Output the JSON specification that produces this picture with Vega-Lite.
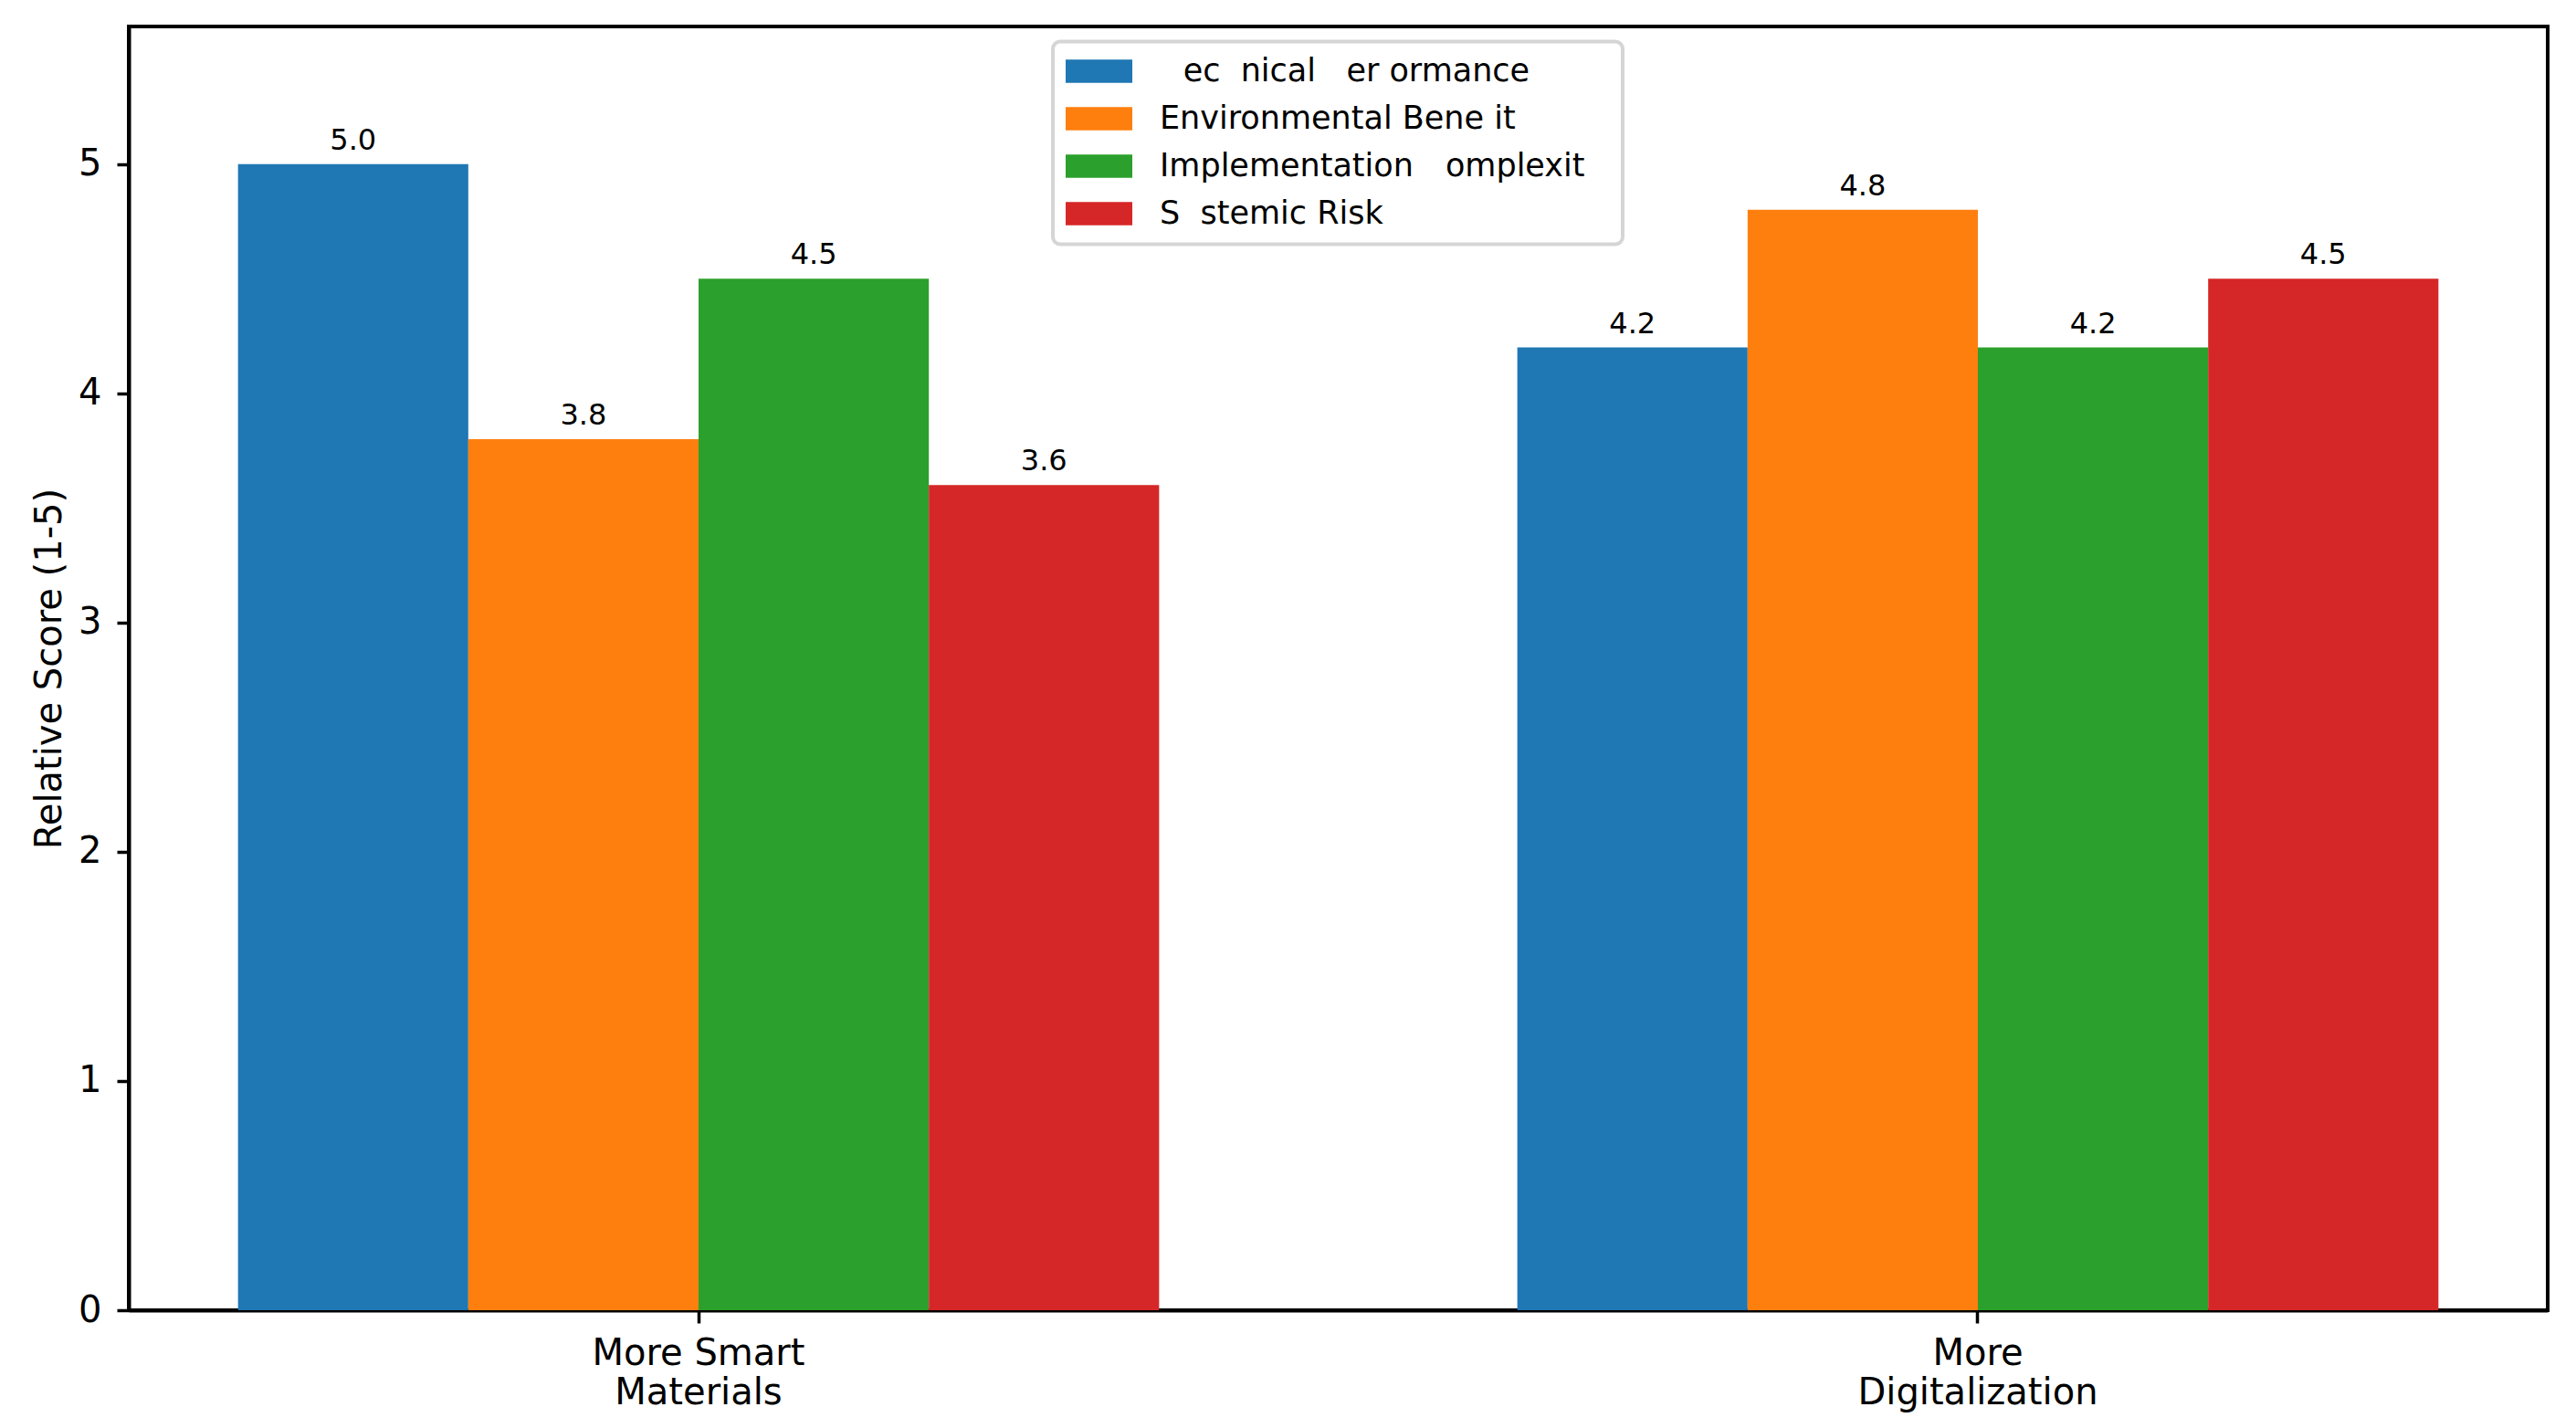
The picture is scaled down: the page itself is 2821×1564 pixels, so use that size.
{
  "$schema": "https://vega.github.io/schema/vega-lite/v6.json",
  "width": 2649,
  "height": 1406,
  "autosize": {"type": "none"},
  "padding": {"left": 141, "top": 29, "right": 31, "bottom": 129},
  "background": "white",
  "config": {
    "font": "DejaVu Sans",
    "view": {"stroke": "black", "strokeWidth": 4},
    "axis": {
      "domainColor": "black",
      "domainWidth": 4,
      "tickColor": "black",
      "tickWidth": 3.5,
      "labelColor": "black",
      "titleColor": "black",
      "labelFont": "DejaVu Sans",
      "titleFont": "DejaVu Sans",
      "grid": false,
      "zindex": 1
    }
  },
  "data": {
    "values": [
      {"scenario": "More Smart Materials", "metric": "Technical Performance", "score": 5.0},
      {"scenario": "More Smart Materials", "metric": "Environmental Benefit", "score": 3.8},
      {"scenario": "More Smart Materials", "metric": "Implementation Complexity", "score": 4.5},
      {"scenario": "More Smart Materials", "metric": "Systemic Risk", "score": 3.6},
      {"scenario": "More Digitalization", "metric": "Technical Performance", "score": 4.2},
      {"scenario": "More Digitalization", "metric": "Environmental Benefit", "score": 4.8},
      {"scenario": "More Digitalization", "metric": "Implementation Complexity", "score": 4.2},
      {"scenario": "More Digitalization", "metric": "Systemic Risk", "score": 4.5}
    ]
  },
  "encoding": {
    "x": {
      "field": "scenario",
      "type": "nominal",
      "sort": ["More Smart Materials", "More Digitalization"],
      "scale": {"paddingInner": 0.28, "paddingOuter": 0.0854},
      "axis": {
        "title": null,
        "labelAngle": 0,
        "labelFontSize": 40,
        "labelLimit": 2000,
        "tickSize": 14,
        "labelPadding": 13,
        "labelLineHeight": 43,
        "labelBaseline": "top",
        "labelExpr": "datum.value == 'More Smart Materials' ? ['More Smart', 'Materials'] : ['More', 'Digitalization']"
      }
    },
    "xOffset": {
      "field": "metric",
      "type": "nominal",
      "sort": ["Technical Performance", "Environmental Benefit", "Implementation Complexity", "Systemic Risk"],
      "scale": {"paddingInner": 0, "paddingOuter": 0}
    },
    "y": {
      "field": "score",
      "type": "quantitative",
      "scale": {"domain": [0, 5.6], "nice": false},
      "axis": {
        "values": [0, 1, 2, 3, 4, 5],
        "labelFontSize": 40,
        "tickSize": 13,
        "labelPadding": 17,
        "title": "Relative Score (1-5)",
        "titleFontSize": 40,
        "titleFontWeight": "normal",
        "titleX": -75,
        "titleY": 703,
        "titleAngle": -90,
        "titleBaseline": "alphabetic",
        "titleAlign": "center"
      }
    }
  },
  "layer": [
    {
      "mark": {"type": "bar"},
      "encoding": {
        "color": {
          "field": "metric",
          "type": "nominal",
          "sort": ["Technical Performance", "Environmental Benefit", "Implementation Complexity", "Systemic Risk"],
          "scale": {
            "domain": ["Technical Performance", "Environmental Benefit", "Implementation Complexity", "Systemic Risk"],
            "range": ["#1f77b4", "#ff7f0e", "#2ca02c", "#d62728"]
          },
          "legend": {
            "orient": "none",
            "legendX": 1012,
            "legendY": 16.5,
            "title": null,
            "labelFontSize": 35,
            "labelFont": "DejaVu Sans",
            "labelColor": "black",
            "labelLimit": 2000,
            "labelExpr": "datum.value == 'Technical Performance' ? '\u2800ec\u2007nical\u00a0\u2007er\u00a0ormance' : datum.value == 'Environmental Benefit' ? 'Environmental Bene\u00a0it' : datum.value == 'Implementation Complexity' ? 'Implementation\u2003omplexit\u2800' : 'S\u2007stemic Risk'",
            "symbolType": "M-1.45,-1H4.275V1H-1.45Z",
            "symbolSize": 650.25,
            "symbolStrokeWidth": 0,
            "symbolOpacity": 1,
            "labelOffset": 67,
            "rowPadding": 16,
            "padding": 15,
            "strokeColor": "#d5d5d5",
            "cornerRadius": 8,
            "fillColor": "white",
            "encode": {"legend": {"update": {"strokeWidth": {"value": 4}}}}
          }
        }
      }
    },
    {
      "mark": {"type": "text", "baseline": "alphabetic", "dy": -16, "fontSize": 32, "color": "black", "font": "DejaVu Sans"},
      "encoding": {
        "text": {"field": "score", "type": "quantitative", "format": ".1f"}
      }
    }
  ]
}
